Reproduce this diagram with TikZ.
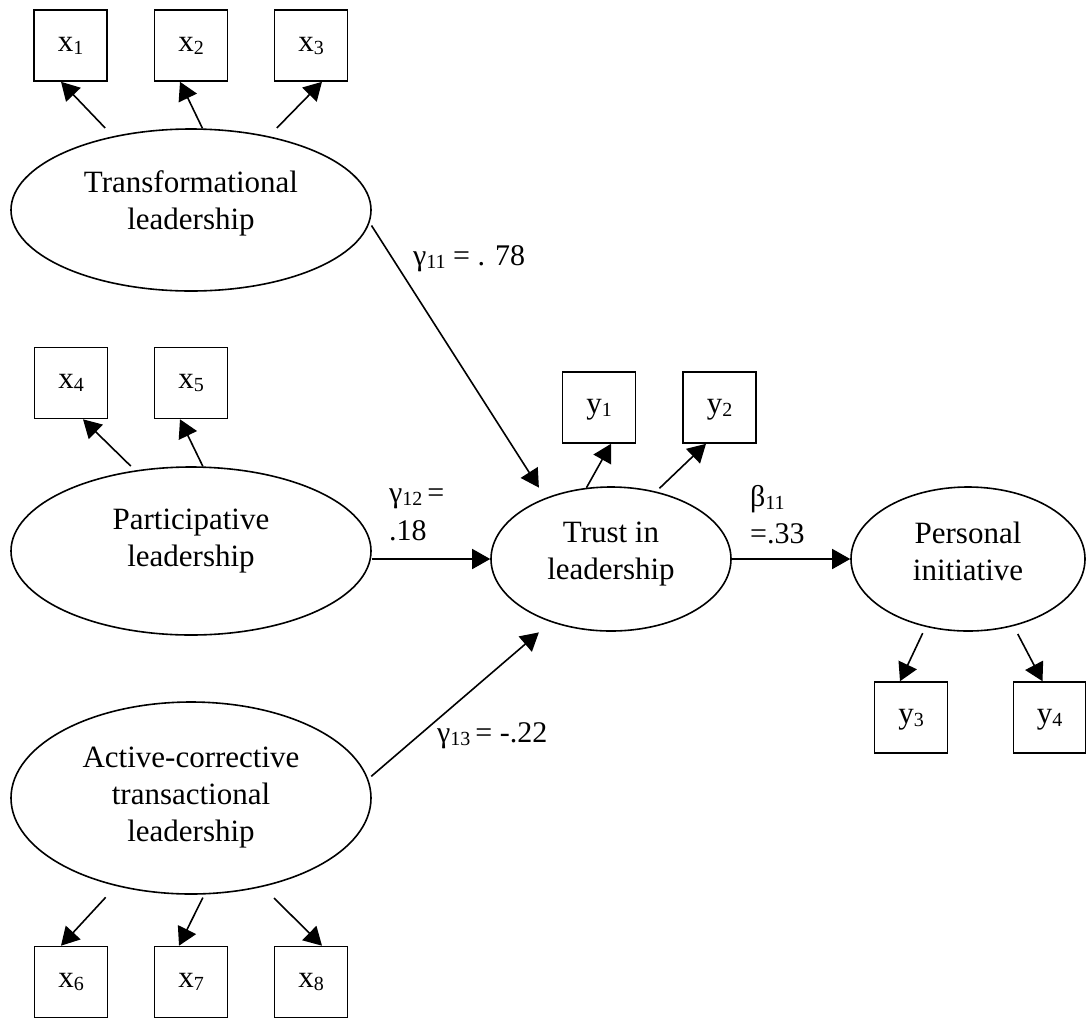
\documentclass[tikz,border=0pt]{standalone}
\usepackage{fontspec}
\setmainfont{Liberation Serif}
\usetikzlibrary{shapes.geometric,arrows.meta}

% small lowered index after a letter
\newcommand\sbs[1]{\raisebox{-3pt}{\fontsize{20}{20}\selectfont #1}}
% extra depth on the last line of a latent-variable label
\newcommand\dpx[1]{\rule[-#1pt]{0pt}{0pt}}

\tikzset{
  latent/.style={draw, ellipse, line width=1.6pt, inner sep=0pt,
    align=center, font=\fontsize{31}{37}\selectfont},
  indicator/.style={draw, rectangle, line width=1.6pt, inner sep=0pt,
    minimum width=73pt, minimum height=71pt,
    text height=14pt, text depth=3pt, font=\fontsize{31}{37}\selectfont},
  coef/.style={anchor=base west, inner sep=0pt, font=\fontsize{30}{37}\selectfont},
  path/.style={line width=1.6pt, -{Triangle[length=18pt,width=20pt]}}
}

\begin{document}
\begin{tikzpicture}[x=1pt, y=-1pt]
\useasboundingbox (0,0) rectangle (1086,1021);

% latent variables
\node[latent, minimum width=360pt, minimum height=162pt] (T) at (191,210)
  {Transformational\\leadership\dpx{20}};
\node[latent, minimum width=360pt, minimum height=168pt] (P) at (191,551)
  {Participative\\leadership\dpx{26}};
\node[latent, minimum width=360pt, minimum height=192pt] (A) at (191,798)
  {Active-corrective\\transactional\\leadership};
\node[latent, minimum width=240pt, minimum height=144pt] (Tr) at (611,559)
  {Trust in\\leadership\dpx{16}};
\node[latent, minimum width=234pt, minimum height=144pt] (Pe) at (968,559)
  {Personal\\initiative\dpx{16}};

% observed indicators
\node[indicator] (x1) at (70.5,45.5) {x\sbs{1}};
\node[indicator] (x2) at (191,45.5) {x\sbs{2}};
\node[indicator] (x3) at (311,45.5) {x\sbs{3}};
\node[indicator] (x4) at (71,383) {x\sbs{4}};
\node[indicator] (x5) at (191,383) {x\sbs{5}};
\node[indicator] (x6) at (71,982) {x\sbs{6}};
\node[indicator] (x7) at (191,982) {x\sbs{7}};
\node[indicator] (x8) at (311,982) {x\sbs{8}};
\node[indicator] (y1) at (599,407.5) {y\sbs{1}};
\node[indicator] (y2) at (719.5,407.5) {y\sbs{2}};
\node[indicator] (y3) at (911,717.5) {y\sbs{3}};
\node[indicator, minimum width=72pt] (y4) at (1049.5,717.5) {y\sbs{4}};

% measurement paths (each starts a little off the ellipse border)
\draw[path] ([yshift=10pt]T.140) -- ([xshift=-9.5pt]x1.south);
\draw[path] (T.82)  -- ([xshift=-11pt]x2.south);
\draw[path] ([yshift=10pt]T.40)  -- ([xshift=11pt]x3.south);
\draw[path] ([yshift=5pt]P.127) -- ([xshift=12pt]x4.south);
\draw[path] (P.82)  -- ([xshift=-11pt]x5.south);
\draw[path] ([yshift=-14pt]A.225) -- ([xshift=-10pt]x6.north);
\draw[path] ([yshift=-3pt]A.277) -- ([xshift=-12pt]x7.north);
\draw[path] ([yshift=-14pt]A.314) -- ([xshift=11pt]x8.north);
\draw[path] (Tr.109) -- ([xshift=12pt]y1.south);
\draw[path] ([yshift=4pt]Tr.54)  -- ([xshift=-13.5pt]y2.south);
\draw[path] ([yshift=-7pt]Pe.236) -- ([xshift=-11pt]y3.north);
\draw[path] ([yshift=-9pt]Pe.307) -- ([xshift=-7pt]y4.north);

% structural paths
\draw[path] ([xshift=3pt]T.-5) -- ([yshift=13pt]Tr.141);
\draw[path] (P.east |- Tr.west) -- (Tr.west);
\draw[path] ([xshift=4pt]A.7) -- ([yshift=-15pt]Tr.219);
\draw[path] (Tr.east) -- (Pe.west);

% path coefficients
\node[coef] (g11) at (413,265) {γ\sbs{11} = . 78};
\node[coef] (g12) at (389,502) {γ\sbs{12}\,=};
\node[coef] (g12v) at (389,540) {.18};
\node[coef] (b11) at (750,506) {β\sbs{11}};
\node[coef] (b11v) at (750,543) {=.33};
\node[coef] (g13) at (437,742) {γ\sbs{13}\,= -.22};
\end{tikzpicture}
\end{document}
